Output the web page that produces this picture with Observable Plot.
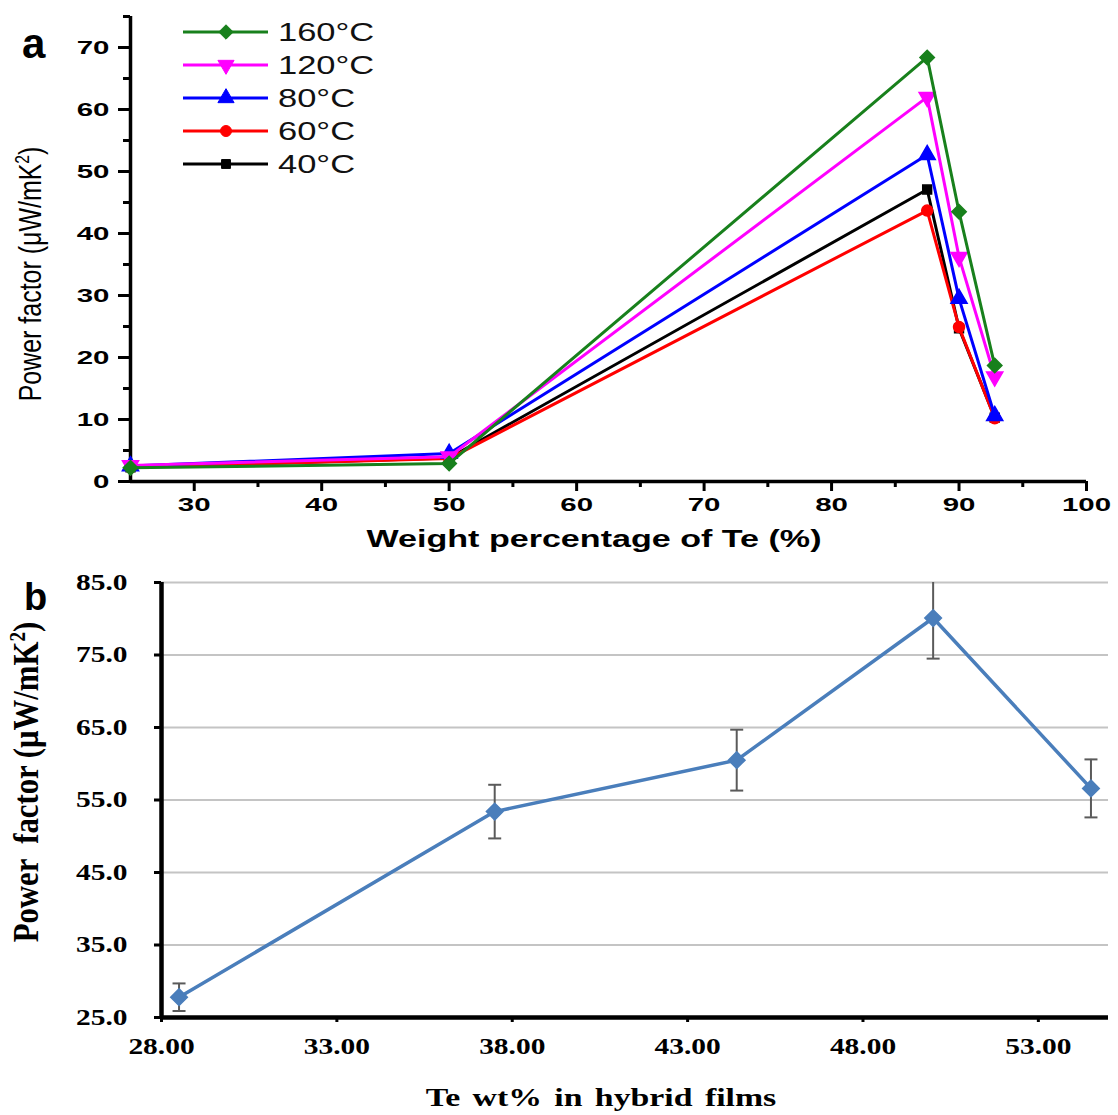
<!DOCTYPE html>
<html><head><meta charset="utf-8">
<script src="https://cdn.jsdelivr.net/npm/d3@7"></script>
<script src="https://cdn.jsdelivr.net/npm/@observablehq/plot@0.6"></script>
<style>
body{margin:0;background:#fff;}
#wrap{position:relative;width:1118px;height:1115px;overflow:hidden;background:#fff;}
#wrap svg{position:absolute;left:0;overflow:visible;}
</style></head><body><div id="wrap"></div>
<script>
// ---------- Panel a data ----------
const tempLabels = ["40°C", "60°C", "80°C", "120°C", "160°C"];
const teWeight = [25, 50, 87.5, 90, 92.8];
const pf40  = [2.3, 3.8, 47.1, 24.7, 10.3];
const pf60  = [2.3, 3.7, 43.7, 24.9, 10.2];
const pf80  = [2.5, 4.5, 52.7, 29.5, 10.6];
const pf120 = [2.6, 4.0, 62.0, 36.2, 16.9];
const pf160 = [2.2, 2.9, 68.4, 43.5, 18.7];
const xTicksA = [30, 40, 50, 60, 70, 80, 90, 100];
const yTicksA = [0, 10, 20, 30, 40, 50, 60, 70];

// ---------- Panel b data ----------
const teHybrid = [28.5, 37.5, 44.4, 50.0, 54.5];
const pfHybrid = [27.8, 53.4, 60.5, 80.1, 56.6];
const pfErr    = [1.9, 3.7, 4.2, 5.6, 4.0];
const xTicksB = [28, 33, 38, 43, 48, 53];
const yTicksB = [25, 35, 45, 55, 65, 75, 85];

// ---------- styles ----------
const seriesColors  = ["#000000", "#ff0000", "#0000ff", "#ff00ff", "#18801c"];
const seriesSymbols = ["square", "circle", "triangle", "triangle", "diamond2"];
const seriesRotate  = [0, 0, 0, 180, 0];
const symbolR       = [5, 5.5, 6, 6, 6.5];

const wrap = document.getElementById("wrap");

function stretch(nodes, f) {
  nodes.forEach(n => {
    const L = n.getComputedTextLength();
    if (L > 0) { n.setAttribute("textLength", L * f); n.setAttribute("lengthAdjust", "spacingAndGlyphs"); }
  });
}

// ---------- Panel a ----------
const pfSeries = [pf40, pf60, pf80, pf120, pf160];
const seriesData = pfSeries.map((vals, i) => teWeight.map((x, j) => ({x, y: vals[j], s: tempLabels[i]})));

const sansA = "'Liberation Sans', Arial, sans-serif";
const marksA = [
  Plot.axisX({ticks: xTicksA, tickSize: 10, tickPadding: 6, tickFormat: d => d, fontSize: 19, fontWeight: "bold", strokeWidth: 3, label: null}),
  Plot.axisX({ticks: d3.range(35, 100, 10), tickSize: 6, tickFormat: () => "", strokeWidth: 3, label: null}),
  Plot.axisY({ticks: yTicksA, tickSize: 12, tickPadding: 9, tickFormat: d => d, fontSize: 19, fontWeight: "bold", strokeWidth: 3, label: null}),
  Plot.axisY({ticks: d3.range(5, 76, 10), tickSize: 7, tickFormat: () => "", strokeWidth: 3, label: null}),
  Plot.ruleX([25], {strokeWidth: 3.5}),
  Plot.ruleY([0], {strokeWidth: 3.5})
];
seriesData.forEach((d, i) => {
  marksA.push(Plot.line(d, {x: "x", y: "y", stroke: seriesColors[i], strokeWidth: 3}));
  marksA.push(Plot.dot(d, {x: "x", y: "y", symbol: seriesSymbols[i], fill: seriesColors[i], stroke: seriesColors[i], r: symbolR[i], rotate: seriesRotate[i]}));
});

const plotA = Plot.plot({
  width: 1118, height: 560,
  marginLeft: 130, marginRight: 32, marginTop: 16, marginBottom: 79,
  x: {domain: [25, 100], label: null},
  y: {domain: [0, 75], label: null},
  style: {fontFamily: sansA, background: "white", color: "black"},
  marks: marksA
});
plotA.style.top = "0px";
wrap.appendChild(plotA);

const svgA = d3.select(plotA);
stretch(plotA.querySelectorAll('g[aria-label="x-axis tick label"] text'), 1.55);
stretch(plotA.querySelectorAll('g[aria-label="y-axis tick label"] text'), 1.55);

// axis titles a
const xtA = svgA.append("text").attr("x", 594).attr("y", 547).attr("text-anchor", "middle")
  .attr("font-family", sansA).attr("font-weight", "bold").attr("font-size", 24).attr("fill", "black")
  .text("Weight percentage of Te (%)");
stretch([xtA.node()], 1.42);
const ytA = svgA.append("text").attr("transform", "translate(41,274) rotate(-90) scale(1,1.3)").attr("text-anchor", "middle")
  .attr("font-family", sansA).attr("font-size", 24).attr("fill", "black");
ytA.append("tspan").text("Power factor (μW/mK");
ytA.append("tspan").attr("font-size", 15).attr("dy", -9).text("2");
ytA.append("tspan").attr("dy", 9).text(")");
stretch([ytA.node()], 1.04);
svgA.append("text").attr("x", 22).attr("y", 58).attr("text-anchor", "start").attr("font-family", sansA).attr("font-weight", "bold")
  .attr("font-size", 42).attr("fill", "black").text("a");

// legend a (top to bottom: 160, 120, 80, 60, 40)
const legOrder = [4, 3, 2, 1, 0];
const symMap = {square: d3.symbolSquare, circle: d3.symbolCircle, triangle: d3.symbolTriangle, diamond2: d3.symbolDiamond2};
legOrder.forEach((i, k) => {
  const yy = 32 + k * 33;
  const g = svgA.append("g");
  g.append("line").attr("x1", 183).attr("x2", 268).attr("y1", yy).attr("y2", yy)
    .attr("stroke", seriesColors[i]).attr("stroke-width", 3);
  g.append("path").attr("d", d3.symbol(symMap[seriesSymbols[i]], Math.PI * symbolR[i] * symbolR[i])())
    .attr("transform", `translate(226,${yy}) rotate(${seriesRotate[i]})`)
    .attr("fill", seriesColors[i]).attr("stroke", seriesColors[i]);
  const t = g.append("text").attr("x", 278).attr("y", yy + 9).attr("text-anchor", "start").attr("font-family", sansA)
    .attr("font-size", 25).attr("fill", "#111").text(tempLabels[i]);
  stretch([t.node()], 1.38);
});

// ---------- Panel b ----------
const serif = "'Liberation Serif', 'Times New Roman', serif";
const rowsB = teHybrid.map((x, j) => ({x, y: pfHybrid[j], e: pfErr[j]}));
const capSymbol = {draw(c) { c.moveTo(-6.5, 0); c.lineTo(6.5, 0); }};
const blue = "#4a7ebb";

const plotB = Plot.plot({
  width: 1118, height: 555,
  marginLeft: 161, marginRight: 10, marginTop: 22, marginBottom: 98,
  x: {domain: [28, 55], label: null},
  y: {domain: [25, 85], label: null},
  style: {fontFamily: serif, background: "white", color: "black"},
  marks: [
    Plot.ruleY(yTicksB.slice(1), {stroke: "#c4c4c4", strokeWidth: 2}),
    Plot.axisX({ticks: xTicksB, tickSize: 5, tickPadding: 15, tickFormat: d => d.toFixed(2), fontSize: 23, fontWeight: "bold", strokeWidth: 3, label: null}),
    Plot.axisY({ticks: yTicksB, tickSize: 7, tickPadding: 27, tickFormat: d => d.toFixed(1), fontSize: 23, fontWeight: "bold", strokeWidth: 3, label: null}),
    Plot.ruleX(rowsB, {x: "x", y1: d => d.y - d.e, y2: d => d.y + d.e, stroke: "#5a5a5a", strokeWidth: 2, clip: true}),
    Plot.dot(rowsB, {x: "x", y: d => d.y + d.e, symbol: capSymbol, fill: "none", stroke: "#5a5a5a", strokeWidth: 2, clip: true}),
    Plot.dot(rowsB, {x: "x", y: d => d.y - d.e, symbol: capSymbol, fill: "none", stroke: "#5a5a5a", strokeWidth: 2, clip: true}),
    Plot.line(rowsB, {x: "x", y: "y", stroke: blue, strokeWidth: 3.5}),
    Plot.dot(rowsB, {x: "x", y: "y", symbol: "diamond2", fill: blue, stroke: blue, r: 7.5}),
    Plot.ruleX([28], {strokeWidth: 4.5}),
    Plot.ruleY([25], {strokeWidth: 4.5})
  ]
});
plotB.style.top = "560px";
wrap.appendChild(plotB);
const svgB = d3.select(plotB);
stretch(plotB.querySelectorAll('g[aria-label="x-axis tick label"] text'), 1.28);
stretch(plotB.querySelectorAll('g[aria-label="y-axis tick label"] text'), 1.28);

const xtB = svgB.append("text").attr("x", 601).attr("y", 546).attr("text-anchor", "middle")
  .attr("font-family", serif).attr("font-weight", "bold").attr("font-size", 26).attr("fill", "black")
  .attr("word-spacing", 3).text("Te wt% in hybrid films");
stretch([xtB.node()], 1.3);
const ytB = svgB.append("text").attr("transform", "translate(38,222) rotate(-90) scale(1,1.3)").attr("text-anchor", "middle")
  .attr("font-family", serif).attr("font-weight", "bold").attr("font-size", 27).attr("fill", "black");
ytB.append("tspan").text("Power  factor (μW/mK");
ytB.append("tspan").attr("font-size", 17).attr("dy", -10).text("2");
ytB.append("tspan").attr("dy", 10).text(")");
stretch([ytB.node()], 1.14);
svgB.append("text").attr("x", 24).attr("y", 50).attr("text-anchor", "start").attr("font-family", sansA).attr("font-weight", "bold")
  .attr("font-size", 38).attr("fill", "black").text("b");
</script>
</body></html>
